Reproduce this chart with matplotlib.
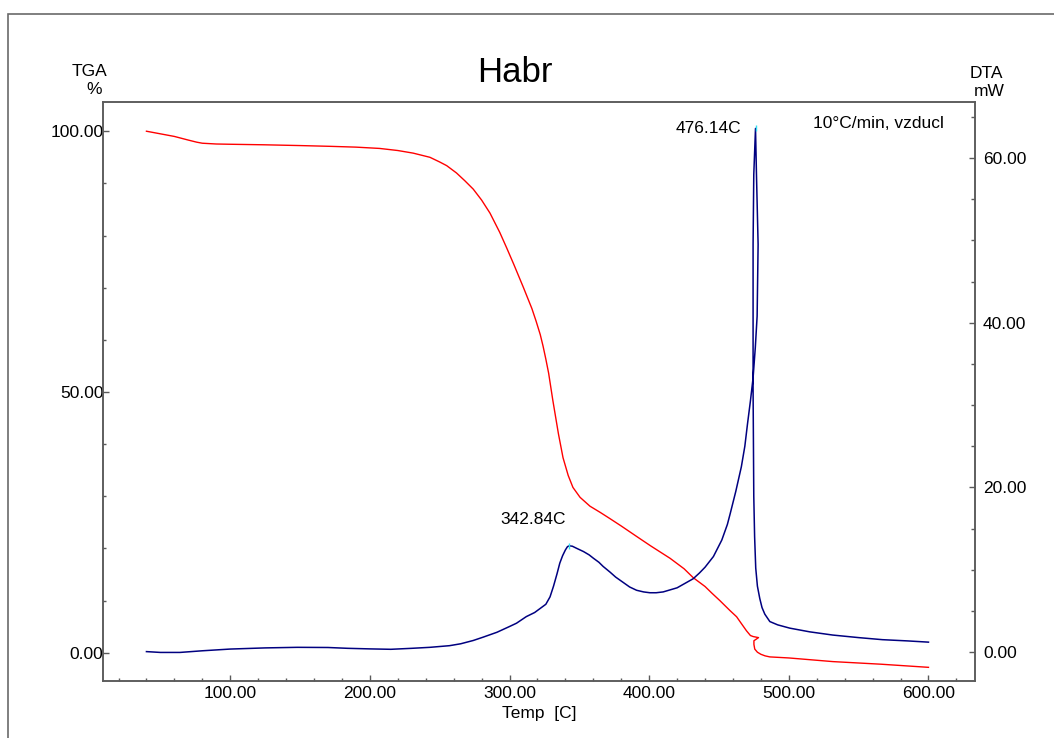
#!/usr/bin/env python3
"""TGA / DTA thermogram of the Habr sample (10 C/min, air)."""
import matplotlib as mpl
mpl.use('Agg')
import matplotlib.pyplot as plt
from matplotlib.patches import Rectangle

plt.rcParams['font.family'] = ['Liberation Sans', 'DejaVu Sans']

# TGA trace: temperature [C] and mass [%]
tga_temp = [40, 50, 60, 70, 76, 80, 90, 100, 124, 150, 172, 190, 207, 220,
            231, 243, 250, 255, 262, 268, 274, 280, 286, 293, 298, 303,
            310, 316, 319, 322, 324, 326, 328, 331, 335, 338.3, 342, 345.4,
            350.5, 357.6, 365, 372, 380, 391, 401, 415, 425, 431.5, 440,
            445, 450.6, 457.8, 462.6, 466, 469.7, 472.5, 474.5, 478.3,
            475.0, 475.0, 475.6, 477.5, 480, 483, 486.4, 500, 531.5, 566,
            600]
tga_mass = [100.0, 99.5, 99.0, 98.3, 97.9, 97.7, 97.55, 97.5, 97.4, 97.25,
            97.1, 96.95, 96.7, 96.3, 95.8, 95.0, 94.1, 93.4, 92.0, 90.5,
            88.9, 86.8, 84.3, 80.6, 77.6, 74.5, 70.0, 66.0, 63.6, 61.0,
            58.8, 56.3, 53.6, 48.4, 42.0, 37.4, 34.0, 31.7, 29.8, 28.1,
            26.9, 25.7, 24.3, 22.3, 20.5, 18.1, 16.1, 14.4, 12.7, 11.4,
            10.0, 8.1, 6.9, 5.6, 4.2, 3.3, 3.1, 2.9, 2.3, 1.6, 0.7, 0.1,
            -0.3, -0.6, -0.8, -1.0, -1.7, -2.2, -2.8]

# DTA trace: temperature [C] and heat flow [mW]
dta_temp = [40, 50, 64, 80, 100, 125, 148, 170, 184, 200, 215, 230, 243,
            257, 265, 274, 281, 291, 300, 305, 312, 318, 322, 326, 329,
            331.5, 334, 336, 338, 340, 341.5, 342.84, 345, 348, 353, 357,
            360, 364, 367, 372, 376, 381, 386, 391, 396, 400.5, 405, 410,
            420, 431.5, 436, 440, 446, 452, 456, 458, 462, 466, 468.5,
            470.4, 472.5, 474.4, 476, 477.3, 478.0, 476.8, 476.14, 474.9,
            474.4, 474.4, 474.9, 475.5, 476.3, 477.5, 479.2, 480.8, 482.8,
            486.4, 492, 500.7, 515, 531.5, 550, 567, 585, 600]
dta_heat = [0.05, -0.05, -0.05, 0.15, 0.36, 0.5, 0.57, 0.55, 0.45, 0.38,
            0.33, 0.45, 0.57, 0.77, 1.0, 1.4, 1.8, 2.4, 3.1, 3.5, 4.3, 4.8,
            5.3, 5.8, 6.7, 8.0, 9.5, 10.8, 11.7, 12.4, 12.8, 12.9, 12.85,
            12.6, 12.2, 11.8, 11.4, 10.9, 10.4, 9.7, 9.1, 8.5, 7.9, 7.5,
            7.3, 7.2, 7.2, 7.3, 7.8, 8.9, 9.6, 10.3, 11.6, 13.6, 15.5, 16.8,
            19.5, 22.5, 25.0, 27.7, 30.5, 33.3, 37.0, 40.8, 49.5, 58.2,
            63.6, 58.0, 49.5, 32.0, 18.9, 14.0, 10.2, 8.0, 6.5, 5.4, 4.6,
            3.7, 3.3, 2.9, 2.45, 2.06, 1.75, 1.5, 1.35, 1.2]

# labelled DTA peaks: temperature [C], heat flow [mW]
peak_temp = [342.84, 476.14]
peak_heat = [12.9, 63.6]

W, H = 1054, 738
fig = plt.figure(figsize=(W / 100, H / 100), dpi=100)

# outer frame around the plot page
fig.patches.append(Rectangle((8 / W, -0.1), 1.2, 1.1 - 14 / H,
                             transform=fig.transFigure, fill=False,
                             edgecolor='#6a6a6a', linewidth=1.2))

ax = fig.add_axes([103.3 / W, 1 - 681 / H, (974.7 - 103.3) / W,
                   (681 - 101.5) / H])
ax2 = ax.twinx()

ax.plot(tga_temp, tga_mass, color='#ff0000', lw=1.0)
ax2.plot(dta_temp, dta_heat, color='#000080', lw=1.1)
ax2.plot(peak_temp, peak_heat, ls='none', marker='|', ms=5, mew=1.0,
         color='#33e0f0')

ax.set_xlim(9.1, 633.1)
ax.set_ylim(-5.42, 105.7)
ax2.set_ylim(-3.52, 66.87)

frame = '#5a5a5a'
for a in (ax, ax2):
    for s in a.spines.values():
        s.set_color(frame)
        s.set_linewidth(1.1)

ax.set_xticks(range(100, 601, 100))
ax.set_xticks(range(20, 621, 20), minor=True)
ax.set_xticklabels([f"{v:.2f}" for v in range(100, 601, 100)])
ax.set_yticks([0, 50, 100])
ax.set_yticks(range(0, 101, 10), minor=True)
ax.set_yticklabels(["0.00", "50.00", "100.00"])
ax2.set_yticks(range(0, 61, 20))
ax2.set_yticks(range(0, 66, 5), minor=True)
ax2.set_yticklabels([f"{v:.2f}" for v in range(0, 61, 20)])

ax.tick_params(axis='x', which='major', direction='in', length=4,
               width=1.0, color=frame, labelsize=12.5, pad=3.5)
ax.tick_params(axis='x', which='minor', direction='in', length=2.5,
               width=1.0, color=frame)
ax.tick_params(axis='y', which='major', direction='in', length=4.5,
               width=1.0, color=frame, labelsize=12.5, pad=0)
ax.tick_params(axis='y', which='minor', direction='in', length=2.5,
               width=1.0, color=frame)
ax2.tick_params(axis='y', which='major', direction='in', length=4,
                width=1.0, color=frame, labelsize=12.5, pad=6)
ax2.tick_params(axis='y', which='minor', direction='in', length=3,
                width=1.0, color=frame)

ax.set_xlabel("Temp  [C]", fontsize=12.5, labelpad=4)

# peak annotations
ax2.annotate(f"{peak_temp[1]:.2f}C", (peak_temp[1], peak_heat[1]),
             xytext=(-10, 0), textcoords='offset points', ha='right',
             va='center', fontsize=12.5)
ax2.annotate(f"{peak_temp[0]:.2f}C", (peak_temp[0], peak_heat[0]),
             xytext=(-26, 19), textcoords='offset points', ha='center',
             va='center', fontsize=12.5)

fig.text(878 / W, 1 - 124 / H, "10°C/min, vzducl", ha='center',
         va='center', fontsize=12.5)
fig.text(515 / W, 1 - 73 / H, "Habr", ha='center', va='center',
         fontsize=25)
fig.text(90 / W, 1 - 71 / H, "TGA", ha='center', va='center', fontsize=12.5)
fig.text(94 / W, 1 - 90 / H, "%", ha='center', va='center', fontsize=12.5)
fig.text(986 / W, 1 - 73 / H, "DTA", ha='center', va='center', fontsize=12.5)
fig.text(989 / W, 1 - 91 / H, "mW", ha='center', va='center', fontsize=12.5)

fig.savefig("out.png", dpi=100)
